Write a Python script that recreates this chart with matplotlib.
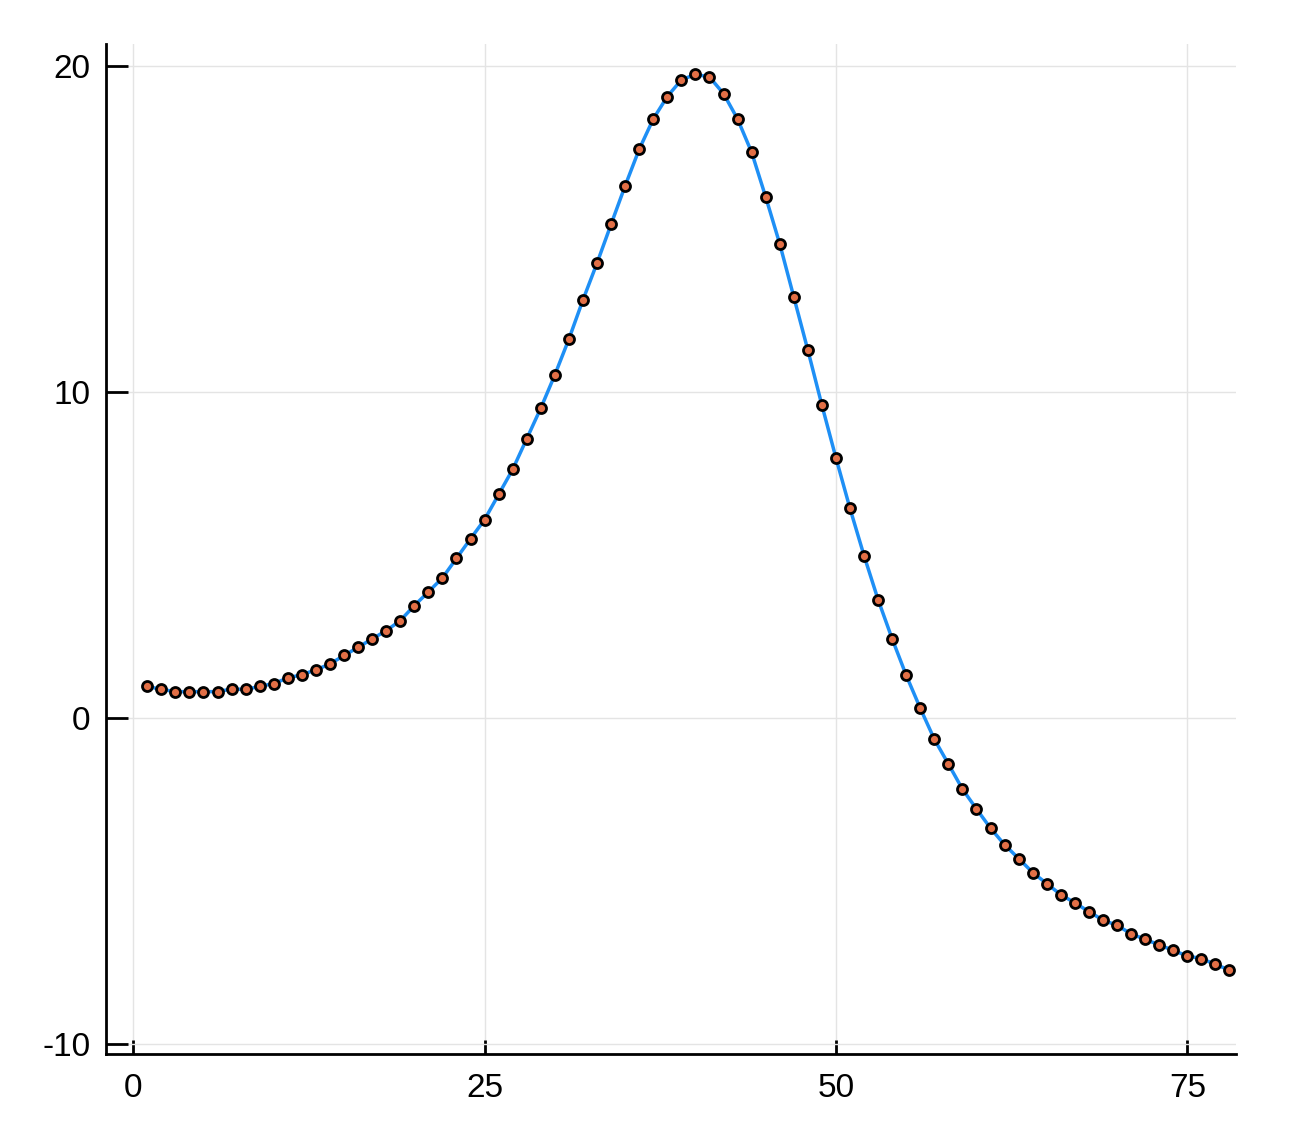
import numpy as np
import matplotlib.pyplot as plt

plt.rcParams['font.family'] = ['Liberation Sans', 'DejaVu Sans']
plt.rcParams['axes.unicode_minus'] = False

# --- du lieu doc tu hinh ---
x_vals = list(range(1, 79))
y_vals = [
    0.96, 0.87, 0.80, 0.80, 0.80, 0.80, 0.88, 0.87, 0.96, 1.05,
    1.22, 1.32, 1.47, 1.65, 1.91, 2.16, 2.42, 2.67, 2.98, 3.44,
    3.86, 4.29, 4.89, 5.49, 6.08, 6.85, 7.62, 8.56, 9.50, 10.52,
    11.62, 12.82, 13.95, 15.14, 16.32, 17.44, 18.37, 19.06, 19.57, 19.74,
    19.66, 19.15, 18.37, 17.35, 15.98, 14.54, 12.91, 11.28, 9.59, 7.97,
    6.42, 4.97, 3.62, 2.42, 1.30, 0.29, -0.66, -1.42, -2.19, -2.80,
    -3.39, -3.90, -4.32, -4.75, -5.09, -5.43, -5.68, -5.95, -6.21, -6.37,
    -6.63, -6.80, -6.97, -7.14, -7.31, -7.39, -7.57, -7.74,
]
x_ticks = [0, 25, 50, 75]
y_ticks = [-10, 0, 10, 20]

fig = plt.figure(figsize=(13.13, 11.21), dpi=100)
ax = fig.add_axes([0.0807, 0.0600, 0.9411 - 0.0807, 0.9607 - 0.0600])

ax.plot(x_vals, y_vals, color='#1E8FF5', linewidth=2.5, zorder=2)
ax.plot(x_vals, y_vals, linestyle='none', marker='o', markersize=7.2,
        markerfacecolor='#E26F46', markeredgecolor='black',
        markeredgewidth=2.0, zorder=3)

ax.set_xlim(-1.94, 78.44)
ax.set_ylim(-10.31, 20.67)
ax.set_xticks(x_ticks)
ax.set_yticks(y_ticks)

ax.grid(True, color='#e4e4e4', linewidth=1.0)
ax.set_axisbelow(True)

for s in ['top', 'right']:
    ax.spines[s].set_visible(False)
for s in ['left', 'bottom']:
    ax.spines[s].set_linewidth(2.0)

ax.tick_params(axis='x', direction='in', length=10, width=2, pad=14, labelsize=24)
ax.tick_params(axis='y', direction='in', length=16, width=2, pad=11, labelsize=24)

plt.savefig('out.png', dpi=100)
